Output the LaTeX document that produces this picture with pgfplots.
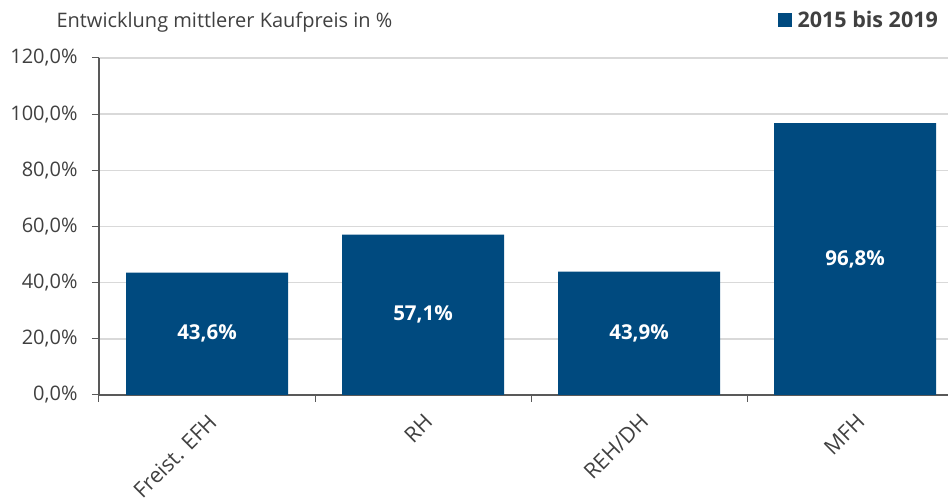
\documentclass[border=0pt]{standalone}
\usepackage{pgfplots}
\pgfplotsset{compat=1.18}
\usepackage{fontspec}
\setmainfont{Open Sans}
\definecolor{barblue}{RGB}{0,74,127}
\definecolor{txtgray}{RGB}{64,64,64}
\definecolor{axgray}{RGB}{89,89,89}
\definecolor{gridgray}{RGB}{217,217,217}
\begin{document}
\begin{tikzpicture}
\path[use as bounding box] (-99pt,-107pt) rectangle (852pt,395pt);
\begin{axis}[
  at={(0pt,0pt)}, anchor=south west,
  scale only axis, width=849pt, height=337pt,
  xmin=-0.5, xmax=3.43, ymin=0, ymax=120,
  axis x line*=bottom, axis y line*=left,
  axis line style={axgray, line width=1.2pt},
  ytick={0,20,...,120},
  ymajorgrids, major grid style={gridgray, line width=1.5pt},
  xtick={0,1,2,3},
  xticklabels={Freist. EFH, RH, REH/DH, MFH},
  minor xtick={-0.5,0.5,1.5,2.5},
  major x tick style={draw=none},
  minor x tick style={axgray, line width=1pt},
  y tick style={axgray, line width=1pt},
  tick align=outside,
  major tick length=7pt, minor tick length=7pt,
  /pgf/number format/assume math mode=true,
  ticklabel style={font=\fontsize{20}{24}\selectfont, text=txtgray},
  yticklabel style={/pgf/number format/.cd, fixed, fixed zerofill, precision=1, use comma, /tikz/.cd, xshift=-11pt},
  yticklabel={\pgfmathprintnumber{\tick}\%},
  xticklabel style={rotate=45, anchor=north east, yshift=-4pt, xshift=-4pt, font=\fontsize{21.5}{26}\selectfont},
  legend style={at={(rel axis cs:0.9906,1.1128)}, anchor=east, draw=none, fill=none,
     font=\fontsize{21.5}{25}\selectfont\bfseries, text=txtgray, inner sep=0pt,
     /tikz/every even column/.append style={column sep=0pt}},
  legend image code/.code={\fill[barblue] (0pt,-7pt) rectangle (14pt,7pt);},
  clip=false,
]
\addplot[ybar, bar width=162pt, fill=barblue, draw=none, bar shift=0pt]
  coordinates {(0,43.6) (1,57.1) (2,43.9) (3,96.8)};
\addlegendentry{\hspace{4pt}2015 bis 2019}
\addplot[only marks, mark=none, point meta=explicit,
  nodes near coords={\pgfmathprintnumber[fixed, fixed zerofill, precision=1, use comma]{\pgfplotspointmeta}\%},
  nodes near coords style={anchor=center, text=white, font=\fontsize{20.5}{24}\selectfont\bfseries},
  /pgf/number format/assume math mode=true]
  coordinates {(0,21.8)[43.6] (1,28.55)[57.1] (2,21.95)[43.9] (3,48.4)[96.8]};
\end{axis}
\node[anchor=base west, text=txtgray, font=\fontsize{20}{24}\selectfont] at (-46pt,367pt) {Entwicklung mittlerer Kaufpreis in \%};
\end{tikzpicture}
\end{document}
